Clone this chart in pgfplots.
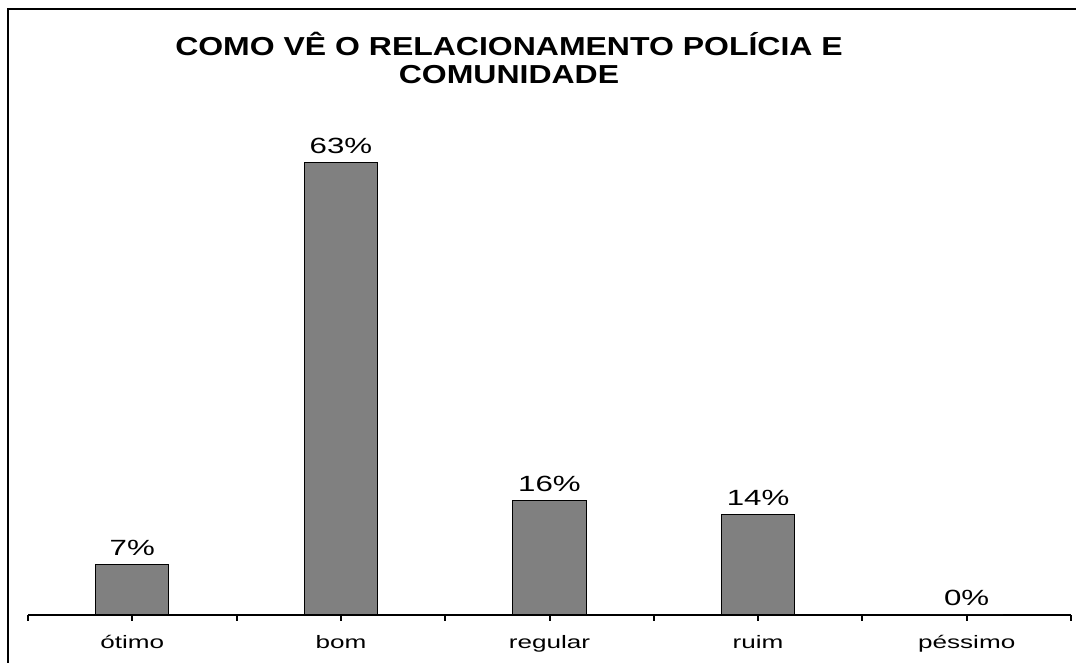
\documentclass[border=0pt]{standalone}
\usepackage{fontspec}
\setmainfont{Liberation Sans}
\usepackage{graphicx}
\usepackage{pgfplots}
\pgfplotsset{compat=1.18}
\definecolor{bargray}{RGB}{128,128,128}
\newcommand\sx[1]{\scalebox{1.45}[1]{#1}}
\newcommand\sd[1]{\scalebox{1.42}[1]{#1}}
\newcommand\st[1]{\scalebox{1.23}[1]{#1}}
\begin{document}
\begin{tikzpicture}[x=0.75pt,y=0.75pt]
\useasboundingbox (0,0) rectangle (1076,663);
\draw[line width=1.5pt] (8,-20) rectangle (1100,654);
\node[anchor=base,font=\bfseries\fontsize{19.5}{21}\selectfont] at (509,607) {\st{COMO VÊ O RELACIONAMENTO POLÍCIA E}};
\node[anchor=base,font=\bfseries\fontsize{19.5}{21}\selectfont] at (509,579) {\st{COMUNIDADE}};
\begin{axis}[
  at={(21pt,36pt)}, anchor=south west,
  scale only axis,
  width=782.25pt, height=376.7pt,
  xmin=-0.5, xmax=4.5, ymin=0, ymax=70,
  axis x line*=bottom,
  hide y axis,
  axis line style={line width=1.5pt, black},
  xtick={0,1,2,3,4},
  xticklabels={\sx{ótimo},\sx{bom},\sx{regular},\sx{ruim},\sx{péssimo}},
  extra x ticks={-0.5,0.5,1.5,2.5,3.5,4.5},
  extra x tick labels={},
  tick align=outside,
  major tick length=4.5pt,
  every tick/.style={line width=1.5pt, black},
  xticklabel style={font=\fontsize{13.5}{14}\selectfont, yshift=-7pt},
  /pgf/number format/assume math mode=true,
  ybar, bar width=0.35,
  nodes near coords={\sd{\pgfmathprintnumber{\pgfplotspointmeta}\%}},
  every node near coord/.append style={font=\fontsize{16.5}{17}\selectfont, yshift=3pt},
  clip=false,
]
\addplot[fill=bargray, draw=black, line width=0.75pt] coordinates {(0,7) (1,63) (2,16) (3,14) (4,0)};
\end{axis}
\end{tikzpicture}
\end{document}
